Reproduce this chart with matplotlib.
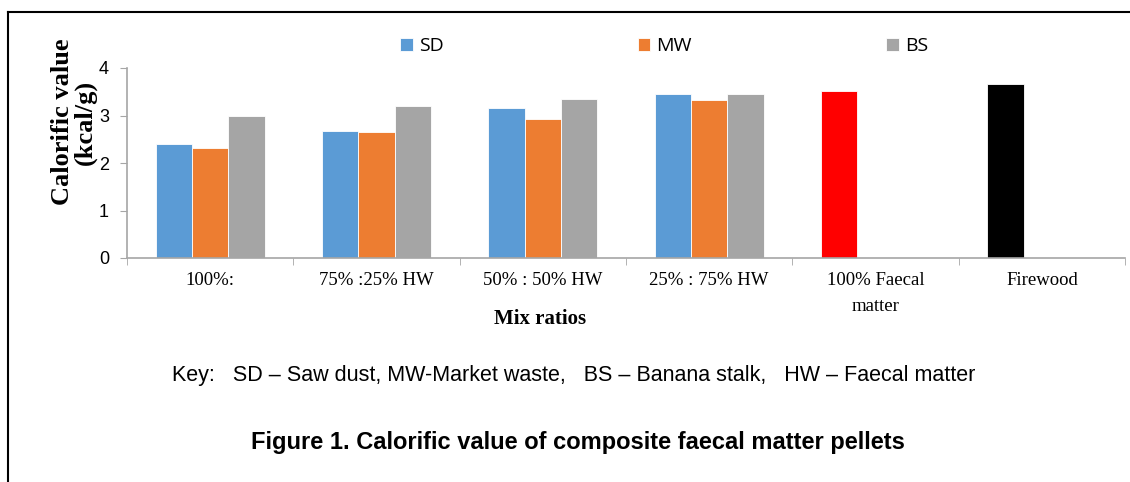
import numpy as np
import matplotlib.pyplot as plt
from matplotlib.lines import Line2D

# Calorific value (kcal/g) of composite faecal matter pellets
categories = ["100%:", "75% :25% HW", "50% : 50% HW", "25% : 75% HW",
              "100% Faecal\nmatter", "Firewood"]
sd = [2.41, 2.67, 3.16, 3.45, 3.52, 3.66]
mw = [2.32, 2.65, 2.92, 3.33, np.nan, np.nan]
bs = [2.98, 3.20, 3.35, 3.46, np.nan, np.nan]
sd_colors = ["#5b9bd5", "#5b9bd5", "#5b9bd5", "#5b9bd5", "#ff0000", "#000000"]

W, H = 1130, 482
fig = plt.figure(figsize=(W / 100, H / 100), dpi=100)
ax = fig.add_axes([127 / W, 1 - 258 / H, (1125 - 127) / W, (258 - 68) / H])

x = np.arange(len(categories))
bw = 0.218
b_sd = ax.bar(x - bw, sd, bw, color=sd_colors, edgecolor="white", linewidth=0.6, label="SD")
b_mw = ax.bar(x, mw, bw, color="#ed7d31", edgecolor="white", linewidth=0.6, label="MW")
b_bs = ax.bar(x + bw, bs, bw, color="#a5a5a5", edgecolor="white", linewidth=0.6, label="BS")

ax.set_xlim(-0.5, len(categories) - 0.5)
ax.set_ylim(0, 4)
ax.set_yticks([0, 1, 2, 3, 4])
ax.set_yticklabels(["0", "1", "2", "3", "4"], family="Liberation Sans", fontsize=13)
ax.set_xticks(x)
ax.set_xticklabels(categories, family="Liberation Serif", fontsize=13.5, linespacing=1.7)
ax.set_xticks(np.arange(len(categories) + 1) - 0.5, minor=True)
ax.tick_params(axis="x", which="major", length=0, pad=10)
ax.tick_params(axis="x", which="minor", length=5, color="#a6a6a6", direction="out")
ax.tick_params(axis="y", length=5, color="#a6a6a6", direction="out", pad=8)
for s in ["top", "right"]:
    ax.spines[s].set_visible(False)
for s in ["left", "bottom"]:
    ax.spines[s].set_color("#a6a6a6")
    ax.spines[s].set_linewidth(1.2)

leg = ax.legend(handles=[b_sd, b_mw, b_bs], ncol=3, loc="center",
                bbox_to_anchor=(664 / W, 1 - 46 / H), bbox_transform=fig.transFigure,
                frameon=False, handlelength=0.65, handleheight=0.65, handletextpad=0.3,
                columnspacing=10.0, prop={"family": "Open Sans", "size": 14})

fig.text(74 / W, 1 - 122 / H, "Calorific value\n(kcal/g)", rotation=90,
         ha="center", va="center", family="Liberation Serif", fontweight="bold",
         fontsize=19, linespacing=0.95)
fig.text(540 / W, 1 - 319 / H, "Mix ratios", ha="center", va="center",
         family="Liberation Serif", fontweight="bold", fontsize=15)
fig.text(172 / W, 1 - 376 / H,
         "Key:   SD \u2013 Saw dust, MW-Market waste,   BS \u2013 Banana stalk,   HW \u2013 Faecal matter",
         ha="left", va="center", family="Liberation Sans", fontsize=15.5)
fig.text(578 / W, 1 - 442 / H, "Figure 1. Calorific value of composite faecal matter pellets",
         ha="center", va="center", family="Liberation Sans", fontweight="bold", fontsize=17)

# frame lines around the figure (left and top)
fig.add_artist(Line2D([8 / W, 8 / W], [0, 1 - 12 / H], transform=fig.transFigure,
                      color="black", linewidth=1.5))
fig.add_artist(Line2D([8 / W, 1], [1 - 12 / H, 1 - 12 / H], transform=fig.transFigure,
                      color="black", linewidth=1.5))

fig.savefig("out.png", dpi=100)
